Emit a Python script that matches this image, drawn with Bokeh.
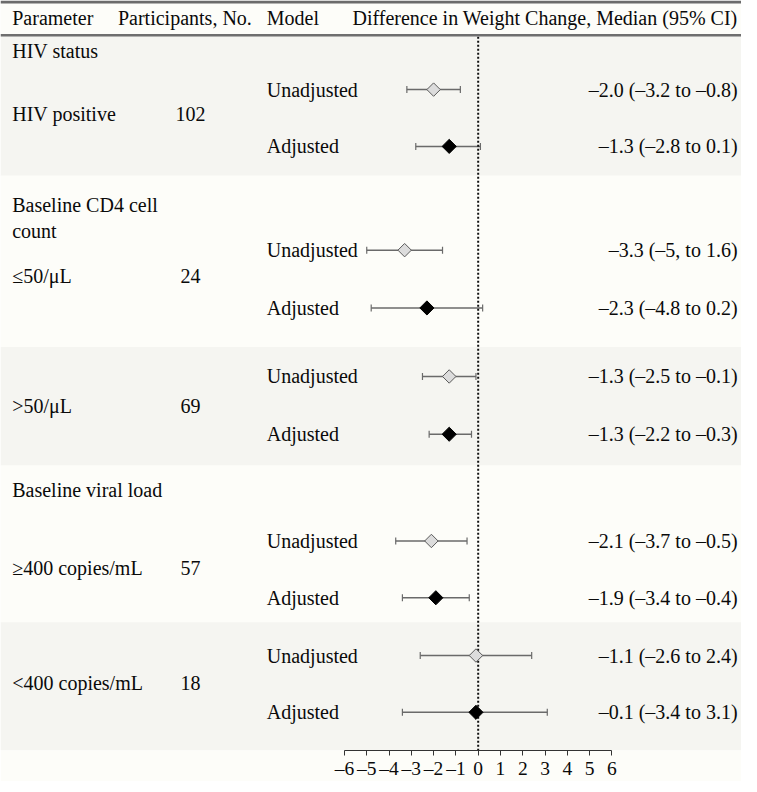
import math
from bokeh.plotting import figure
from bokeh.models import (Range1d, ColumnDataSource, Whisker, TeeHead, LinearAxis,
                          FixedTicker, BoxAnnotation, Span)
from bokeh.core.properties import value
from bokeh.embed import file_html
from bokeh.resources import INLINE

# ---------------- data ----------------
headers = ["Parameter", "Participants, No.", "Model",
           "Difference in Weight Change, Median (95% CI)"]
section_titles = ["HIV status", "Baseline CD4 cell\ncount", "Baseline viral load"]
subgroups = ["HIV positive", "≤50/μL", ">50/μL", "≥400 copies/mL", "<400 copies/mL"]
participants = ["102", "24", "69", "57", "18"]
models = ["Unadjusted", "Adjusted"] * 5
estimate = [-2.0, -1.3, -3.3, -2.3, -1.3, -1.3, -2.1, -1.9, -0.1, -0.1]
ci_low = [-3.2, -2.8, -5.0, -4.8, -2.5, -2.2, -3.7, -3.4, -2.6, -3.4]
ci_high = [-0.8, 0.1, -1.6, 0.2, -0.1, -0.3, -0.5, -0.4, 2.4, 3.1]
ci_labels = ["–2.0 (–3.2 to –0.8)", "–1.3 (–2.8 to 0.1)", "–3.3 (–5, to 1.6)",
             "–2.3 (–4.8 to 0.2)", "–1.3 (–2.5 to –0.1)", "–1.3 (–2.2 to –0.3)",
             "–2.1 (–3.7 to –0.5)", "–1.9 (–3.4 to –0.4)", "–1.1 (–2.6 to 2.4)",
             "–0.1 (–3.4 to 3.1)"]
axis_ticks = [-6, -5, -4, -3, -2, -1, 0, 1, 2, 3, 4, 5, 6]
null_value = 0

# ---------------- layout (reference pixel rows) ----------------
row_y = [91, 149, 255, 314, 384, 443, 552, 610, 669, 727]
subgroup_y = [116, 281, 414, 580, 697]
section_y = [52, 222, 500]
header_y = 18
bands = [(36, 179, "#f5f5f1"), (179, 354, "#fdfdf9"), (354, 475, "#f5f5f1"),
         (475, 635, "#fdfdf9"), (635, 766, "#f5f5f1")]

ZERO_PX = 488.0
PX_PER_UNIT = 22.77


def px2x(px):
    return (px - ZERO_PX) / PX_PER_UNIT


FONT = value("Liberation Serif")
FS = "20px"
TXT = "#0a0a0a"

p = figure(frame_width=741, frame_height=750,
           x_range=Range1d(px2x(0), px2x(757)), y_range=Range1d(766, 0),
           x_axis_type=None, y_axis_type=None,
           output_backend="svg", toolbar_location=None, min_border=0)
p.outline_line_color = None
p.background_fill_color = "#fdfdf9"
p.border_fill_color = "#fdfdf9"

for top, bottom, col in bands:
    p.add_layout(BoxAnnotation(top=top, bottom=bottom, fill_color=col, fill_alpha=1,
                               line_color=None, level="underlay"))

p.add_layout(Span(location=1.5, dimension="width", line_color="#6b6b6b", line_width=3))
p.add_layout(Span(location=35.5, dimension="width", line_color="#6f6f6f", line_width=2.5))

# zero reference line
p.segment(x0=[null_value], y0=[37], x1=[null_value], y1=[766],
          line_color="#111111", line_width=2, line_dash="2 2")

# header texts
p.text(x=[px2x(12), px2x(120), px2x(272)], y=[header_y] * 3, text=headers[:3],
       text_font=FONT, text_font_size=FS, text_baseline="middle", text_align="left",
       text_color=TXT)
p.text(x=[px2x(753)], y=[header_y], text=headers[3:], text_font=FONT,
       text_font_size=FS, text_baseline="middle", text_align="right", text_color=TXT)

# left column
p.text(x=[px2x(12)] * len(section_titles), y=section_y, text=section_titles,
       text_font=FONT, text_font_size=FS, text_baseline="middle", text_align="left",
       text_color=TXT, text_line_height=1.15)
p.text(x=[px2x(12)] * len(subgroups), y=subgroup_y, text=subgroups,
       text_font=FONT, text_font_size=FS, text_baseline="middle", text_align="left",
       text_color=TXT)
p.text(x=[px2x(194)] * len(participants), y=subgroup_y, text=participants,
       text_font=FONT, text_font_size=FS, text_baseline="middle", text_align="center",
       text_color=TXT)
p.text(x=[px2x(272)] * len(models), y=row_y, text=models,
       text_font=FONT, text_font_size=FS, text_baseline="middle", text_align="left",
       text_color=TXT)
p.text(x=[px2x(753)] * len(ci_labels), y=row_y, text=ci_labels,
       text_font=FONT, text_font_size=FS, text_baseline="middle", text_align="right",
       text_color=TXT)

# confidence intervals
src = ColumnDataSource(dict(y=row_y, est=estimate, lo=ci_low, hi=ci_high,
                            model=models))
w = Whisker(source=src, base="y", lower="lo", upper="hi", dimension="width",
            line_color="#6a6a6a", line_width=1.5,
            lower_head=TeeHead(size=7, line_color="#6a6a6a", line_width=1.2),
            upper_head=TeeHead(size=7, line_color="#6a6a6a", line_width=1.2))
p.add_layout(w)

unadj = ColumnDataSource(dict(x=estimate[0::2], y=row_y[0::2]))
adj = ColumnDataSource(dict(x=estimate[1::2], y=row_y[1::2]))
p.scatter(x="x", y="y", source=unadj, marker="square", size=9.5, angle=math.pi / 4,
          fill_color="#dcdcdc", line_color="#5a5a5a", line_width=1)
p.scatter(x="x", y="y", source=adj, marker="square", size=10, angle=math.pi / 4,
          fill_color="#000000", line_color="#000000", line_width=1)

# axis
ax = LinearAxis(ticker=FixedTicker(ticks=axis_ticks), bounds=(-6, 6))
ax.major_label_overrides = {t: (("–" + str(-t)) if t < 0 else str(t)) for t in axis_ticks}
ax.axis_line_color = "#333333"
ax.axis_line_width = 1
ax.major_tick_line_color = "#333333"
ax.major_tick_out = 5
ax.major_tick_in = 0
ax.minor_tick_line_color = None
ax.major_label_standoff = 2
ax.major_label_text_font = "Liberation Serif"
ax.major_label_text_font_size = "19.5px"
ax.major_label_text_color = TXT
p.add_layout(ax, "below")

open("out.html", "w").write(file_html(p, INLINE))
